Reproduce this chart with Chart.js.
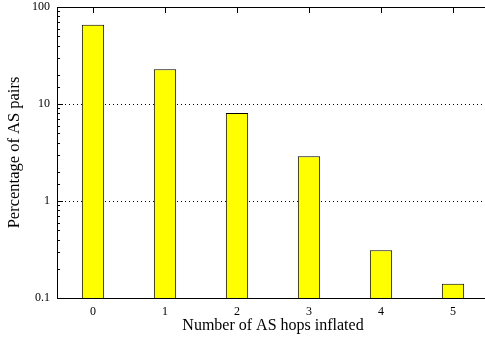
<!DOCTYPE html>
<html>
<head>
<meta charset="utf-8">
<script src="https://cdn.jsdelivr.net/npm/chart.js@4/dist/chart.umd.min.js"></script>
<style>
  html, body { margin: 0; padding: 0; background: #fff; overflow: hidden; }
  #wrap { position: relative; width: 489px; height: 339px; }
</style>
</head>
<body>
<div id="wrap"><canvas id="chartHops"></canvas></div>
<script>
// categorias (saltos AS inflados) y porcentaje de pares AS
const hopLabels = ['0', '1', '2', '3', '4', '5'];
const pairPercent = [65.5, 22.8, 8.1, 2.9, 0.31, 0.14];
// ticks del eje y (log)
const yTickValues = [0.1, 1, 10, 100];
const yTickLabels = ['0.1', '1', '10', '100'];

const serif = '"Liberation Serif", "Times New Roman", serif';

// marco del area de graficado + ticks hacia adentro (estilo gnuplot)
const frameTicks = {
    id: 'frameTicks',
    beforeDatasetsDraw(chart) {
        const {ctx, chartArea: a, scales: {x, y}} = chart;
        ctx.save();
        ctx.strokeStyle = '#000';
        ctx.lineWidth = 1;
        ctx.setLineDash([]);
        ctx.strokeRect(a.left + 0.5, a.top + 0.5, a.right - a.left, a.bottom - a.top);
        ctx.beginPath();
        // ticks del eje y, mayores largos y menores cortos
        y.ticks.forEach(t => {
            const py = Math.round(y.getPixelForValue(t.value)) + 0.5;
            const len = t.major ? 6 : 3;
            ctx.moveTo(a.left, py);
            ctx.lineTo(a.left + len, py);
        });
        // ticks de categorias arriba y abajo
        hopLabels.forEach((_, i) => {
            const px = Math.round(x.getPixelForValue(i)) + 0.5;
            ctx.moveTo(px, a.top);
            ctx.lineTo(px, a.top + 6);
            ctx.moveTo(px, a.bottom);
            ctx.lineTo(px, a.bottom - 6);
        });
        ctx.stroke();
        ctx.restore();
    }
};

new Chart(document.getElementById('chartHops'), {
    type: 'bar',
    data: {
        labels: hopLabels,
        datasets: [{
            data: pairPercent,
            backgroundColor: '#ffff00',
            borderColor: '#000',
            borderWidth: 1,
            barPercentage: 0.31,
            categoryPercentage: 1
        }]
    },
    options: {
        responsive: true,
        maintainAspectRatio: false,
        animation: false,
        layout: { padding: { top: 0, left: 0, right: 0, bottom: 0 } },
        plugins: {
            legend: { display: false },
            tooltip: { enabled: false }
        },
        scales: {
            x: {
                type: 'category',
                offset: true,
                grid: { display: false, drawTicks: false },
                border: { display: false },
                ticks: {
                    color: '#000',
                    padding: 7,
                    maxRotation: 0,
                    font: { family: serif, size: 12 }
                },
                title: {
                    display: true,
                    text: 'Number of AS hops inflated',
                    color: '#000',
                    font: { family: serif, size: 16 },
                    padding: { top: 0, bottom: 4 }
                },
                afterFit: (scale) => { scale.height = 41; }
            },
            y: {
                type: 'logarithmic',
                min: 0.1,
                max: 100,
                grid: {
                    drawTicks: false,
                    // solo lineas punteadas en las decadas
                    color: (c) => (c.tick && c.tick.major) ? '#000' : 'rgba(0,0,0,0)',
                    lineWidth: 1
                },
                border: { display: false, dash: [1, 3] },
                ticks: {
                    autoSkip: false,
                    color: '#000',
                    padding: 7,
                    font: { family: serif, size: 12 },
                    callback: (v) => {
                        const i = yTickValues.findIndex(t => Math.abs(t - v) < 1e-9);
                        return i >= 0 ? yTickLabels[i] : '';
                    }
                },
                title: {
                    display: true,
                    text: 'Percentage of AS pairs',
                    color: '#000',
                    font: { family: serif, size: 16.5 },
                    padding: { top: 5, bottom: 0 }
                },
                afterFit: (scale) => {
                    scale.width = 57;
                    scale.paddingTop = 7;
                    scale.paddingBottom = 0;
                }
            }
        }
    },
    plugins: [frameTicks]
});
</script>
</body>
</html>
